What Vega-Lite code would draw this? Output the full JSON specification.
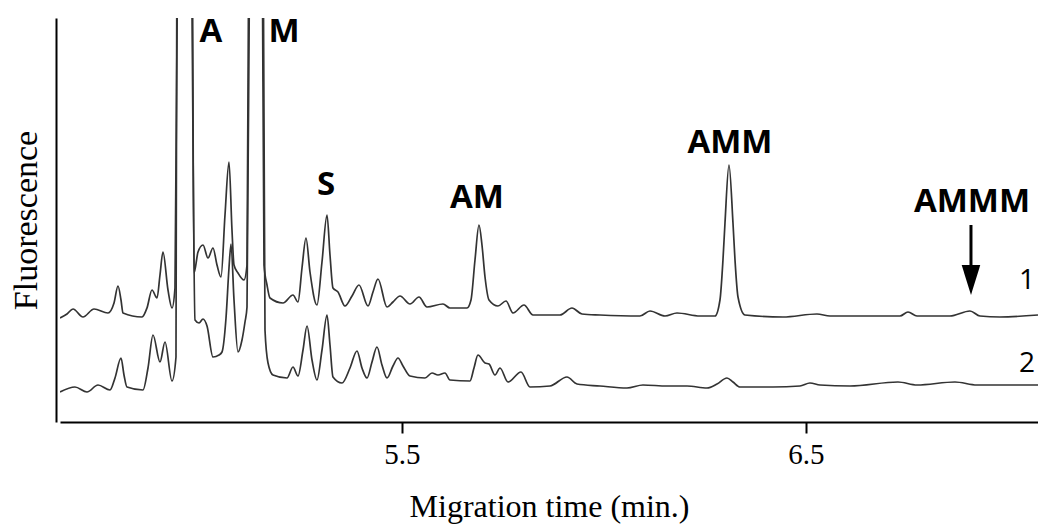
{
  "$schema": "https://vega.github.io/schema/vega-lite/v6.json",
  "width": 978,
  "height": 404,
  "autosize": {"type": "none"},
  "padding": {"left": 60, "top": 18, "right": 0, "bottom": 103},
  "background": "white",
  "config": {"view": {"stroke": null}},
  "datasets": {
    "traces": [
      {"trace": "1", "time": 4.6535, "signal": 104},
      {"trace": "1", "time": 4.6708, "signal": 108},
      {"trace": "1", "time": 4.6857, "signal": 113},
      {"trace": "1", "time": 4.7104, "signal": 105},
      {"trace": "1", "time": 4.7377, "signal": 113},
      {"trace": "1", "time": 4.7723, "signal": 109},
      {"trace": "1", "time": 4.7872, "signal": 119},
      {"trace": "1", "time": 4.7971, "signal": 136},
      {"trace": "1", "time": 4.8045, "signal": 122},
      {"trace": "1", "time": 4.8094, "signal": 109},
      {"trace": "1", "time": 4.8565, "signal": 105},
      {"trace": "1", "time": 4.8688, "signal": 114},
      {"trace": "1", "time": 4.8812, "signal": 132},
      {"trace": "1", "time": 4.8936, "signal": 124},
      {"trace": "1", "time": 4.9010, "signal": 147},
      {"trace": "1", "time": 4.9084, "signal": 170},
      {"trace": "1", "time": 4.9208, "signal": 132},
      {"trace": "1", "time": 4.9307, "signal": 114},
      {"trace": "1", "time": 4.9381, "signal": 134},
      {"trace": "1", "time": 4.9456, "signal": 520},
      {"trace": "1", "time": 4.9629, "signal": 700},
      {"trace": "1", "time": 4.9802, "signal": 520},
      {"trace": "1", "time": 4.9852, "signal": 149},
      {"trace": "1", "time": 4.9951, "signal": 170},
      {"trace": "1", "time": 5.0075, "signal": 177},
      {"trace": "1", "time": 5.0198, "signal": 164},
      {"trace": "1", "time": 5.0322, "signal": 174},
      {"trace": "1", "time": 5.0421, "signal": 157},
      {"trace": "1", "time": 5.0520, "signal": 145},
      {"trace": "1", "time": 5.0619, "signal": 207},
      {"trace": "1", "time": 5.0718, "signal": 260},
      {"trace": "1", "time": 5.0792, "signal": 192},
      {"trace": "1", "time": 5.0842, "signal": 157},
      {"trace": "1", "time": 5.0941, "signal": 149},
      {"trace": "1", "time": 5.1089, "signal": 142},
      {"trace": "1", "time": 5.1164, "signal": 157},
      {"trace": "1", "time": 5.1213, "signal": 520},
      {"trace": "1", "time": 5.1387, "signal": 700},
      {"trace": "1", "time": 5.1535, "signal": 520},
      {"trace": "1", "time": 5.1585, "signal": 157},
      {"trace": "1", "time": 5.1659, "signal": 137},
      {"trace": "1", "time": 5.1733, "signal": 124},
      {"trace": "1", "time": 5.2055, "signal": 119},
      {"trace": "1", "time": 5.2302, "signal": 127},
      {"trace": "1", "time": 5.2426, "signal": 120},
      {"trace": "1", "time": 5.2525, "signal": 154},
      {"trace": "1", "time": 5.2624, "signal": 184},
      {"trace": "1", "time": 5.2723, "signal": 150},
      {"trace": "1", "time": 5.2896, "signal": 117},
      {"trace": "1", "time": 5.3020, "signal": 160},
      {"trace": "1", "time": 5.3144, "signal": 207},
      {"trace": "1", "time": 5.3218, "signal": 167},
      {"trace": "1", "time": 5.3292, "signal": 134},
      {"trace": "1", "time": 5.3416, "signal": 130},
      {"trace": "1", "time": 5.3589, "signal": 116},
      {"trace": "1", "time": 5.3763, "signal": 126},
      {"trace": "1", "time": 5.3936, "signal": 137},
      {"trace": "1", "time": 5.4159, "signal": 116},
      {"trace": "1", "time": 5.4282, "signal": 130},
      {"trace": "1", "time": 5.4406, "signal": 143},
      {"trace": "1", "time": 5.4629, "signal": 115},
      {"trace": "1", "time": 5.4777, "signal": 120},
      {"trace": "1", "time": 5.4951, "signal": 126},
      {"trace": "1", "time": 5.5198, "signal": 118},
      {"trace": "1", "time": 5.5421, "signal": 125},
      {"trace": "1", "time": 5.5619, "signal": 115},
      {"trace": "1", "time": 5.6015, "signal": 118},
      {"trace": "1", "time": 5.6188, "signal": 114},
      {"trace": "1", "time": 5.6609, "signal": 114},
      {"trace": "1", "time": 5.6708, "signal": 122},
      {"trace": "1", "time": 5.6807, "signal": 162},
      {"trace": "1", "time": 5.6906, "signal": 197},
      {"trace": "1", "time": 5.6980, "signal": 177},
      {"trace": "1", "time": 5.7055, "signal": 145},
      {"trace": "1", "time": 5.7154, "signal": 122},
      {"trace": "1", "time": 5.7376, "signal": 116},
      {"trace": "1", "time": 5.7574, "signal": 121},
      {"trace": "1", "time": 5.7748, "signal": 109},
      {"trace": "1", "time": 5.8020, "signal": 117},
      {"trace": "1", "time": 5.8243, "signal": 107},
      {"trace": "1", "time": 5.8911, "signal": 107},
      {"trace": "1", "time": 5.9208, "signal": 114},
      {"trace": "1", "time": 5.9455, "signal": 108},
      {"trace": "1", "time": 5.9901, "signal": 107},
      {"trace": "1", "time": 6.0891, "signal": 106},
      {"trace": "1", "time": 6.1139, "signal": 111},
      {"trace": "1", "time": 6.1510, "signal": 106},
      {"trace": "1", "time": 6.1807, "signal": 109},
      {"trace": "1", "time": 6.2376, "signal": 106},
      {"trace": "1", "time": 6.2748, "signal": 106},
      {"trace": "1", "time": 6.2871, "signal": 122},
      {"trace": "1", "time": 6.2945, "signal": 162},
      {"trace": "1", "time": 6.2995, "signal": 199},
      {"trace": "1", "time": 6.3094, "signal": 257},
      {"trace": "1", "time": 6.3193, "signal": 199},
      {"trace": "1", "time": 6.3243, "signal": 162},
      {"trace": "1", "time": 6.3317, "signal": 125},
      {"trace": "1", "time": 6.3490, "signal": 107},
      {"trace": "1", "time": 6.4431, "signal": 105},
      {"trace": "1", "time": 6.5272, "signal": 108},
      {"trace": "1", "time": 6.5594, "signal": 106},
      {"trace": "1", "time": 6.7327, "signal": 106},
      {"trace": "1", "time": 6.7525, "signal": 110},
      {"trace": "1", "time": 6.7748, "signal": 106},
      {"trace": "1", "time": 6.8564, "signal": 106},
      {"trace": "1", "time": 6.9059, "signal": 111},
      {"trace": "1", "time": 6.9307, "signal": 106},
      {"trace": "1", "time": 6.9802, "signal": 105},
      {"trace": "1", "time": 7.0743, "signal": 107},
      {"trace": "2", "time": 4.6535, "signal": 30},
      {"trace": "2", "time": 4.6906, "signal": 35},
      {"trace": "2", "time": 4.7203, "signal": 30},
      {"trace": "2", "time": 4.7476, "signal": 37},
      {"trace": "2", "time": 4.7773, "signal": 32},
      {"trace": "2", "time": 4.7896, "signal": 44},
      {"trace": "2", "time": 4.8045, "signal": 64},
      {"trace": "2", "time": 4.8119, "signal": 47},
      {"trace": "2", "time": 4.8193, "signal": 35},
      {"trace": "2", "time": 4.8589, "signal": 32},
      {"trace": "2", "time": 4.8713, "signal": 54},
      {"trace": "2", "time": 4.8837, "signal": 87},
      {"trace": "2", "time": 4.9010, "signal": 60},
      {"trace": "2", "time": 4.9134, "signal": 80},
      {"trace": "2", "time": 4.9307, "signal": 41},
      {"trace": "2", "time": 4.9406, "signal": 65},
      {"trace": "2", "time": 4.9431, "signal": 520},
      {"trace": "2", "time": 4.9629, "signal": 700},
      {"trace": "2", "time": 4.9777, "signal": 520},
      {"trace": "2", "time": 4.9877, "signal": 102},
      {"trace": "2", "time": 4.9976, "signal": 99},
      {"trace": "2", "time": 5.0075, "signal": 103},
      {"trace": "2", "time": 5.0174, "signal": 96},
      {"trace": "2", "time": 5.0322, "signal": 65},
      {"trace": "2", "time": 5.0471, "signal": 67},
      {"trace": "2", "time": 5.0545, "signal": 70},
      {"trace": "2", "time": 5.0644, "signal": 104},
      {"trace": "2", "time": 5.0718, "signal": 154},
      {"trace": "2", "time": 5.0768, "signal": 178},
      {"trace": "2", "time": 5.0842, "signal": 122},
      {"trace": "2", "time": 5.0941, "signal": 70},
      {"trace": "2", "time": 5.1040, "signal": 82},
      {"trace": "2", "time": 5.1114, "signal": 100},
      {"trace": "2", "time": 5.1164, "signal": 115},
      {"trace": "2", "time": 5.1238, "signal": 520},
      {"trace": "2", "time": 5.1387, "signal": 700},
      {"trace": "2", "time": 5.1560, "signal": 520},
      {"trace": "2", "time": 5.1609, "signal": 92},
      {"trace": "2", "time": 5.1684, "signal": 59},
      {"trace": "2", "time": 5.1807, "signal": 47},
      {"trace": "2", "time": 5.2154, "signal": 44},
      {"trace": "2", "time": 5.2302, "signal": 55},
      {"trace": "2", "time": 5.2426, "signal": 46},
      {"trace": "2", "time": 5.2550, "signal": 72},
      {"trace": "2", "time": 5.2649, "signal": 96},
      {"trace": "2", "time": 5.2773, "signal": 62},
      {"trace": "2", "time": 5.2896, "signal": 42},
      {"trace": "2", "time": 5.3020, "signal": 72},
      {"trace": "2", "time": 5.3144, "signal": 107},
      {"trace": "2", "time": 5.3218, "signal": 77},
      {"trace": "2", "time": 5.3292, "signal": 45},
      {"trace": "2", "time": 5.3515, "signal": 39},
      {"trace": "2", "time": 5.3713, "signal": 54},
      {"trace": "2", "time": 5.3886, "signal": 71},
      {"trace": "2", "time": 5.4010, "signal": 54},
      {"trace": "2", "time": 5.4134, "signal": 44},
      {"trace": "2", "time": 5.4258, "signal": 60},
      {"trace": "2", "time": 5.4381, "signal": 75},
      {"trace": "2", "time": 5.4505, "signal": 57},
      {"trace": "2", "time": 5.4629, "signal": 44},
      {"trace": "2", "time": 5.4777, "signal": 56},
      {"trace": "2", "time": 5.4901, "signal": 64},
      {"trace": "2", "time": 5.5025, "signal": 56},
      {"trace": "2", "time": 5.5198, "signal": 46},
      {"trace": "2", "time": 5.5569, "signal": 44},
      {"trace": "2", "time": 5.5743, "signal": 49},
      {"trace": "2", "time": 5.5891, "signal": 47},
      {"trace": "2", "time": 5.6064, "signal": 49},
      {"trace": "2", "time": 5.6188, "signal": 42},
      {"trace": "2", "time": 5.6683, "signal": 41},
      {"trace": "2", "time": 5.6782, "signal": 54},
      {"trace": "2", "time": 5.6881, "signal": 67},
      {"trace": "2", "time": 5.7055, "signal": 59},
      {"trace": "2", "time": 5.7154, "signal": 58},
      {"trace": "2", "time": 5.7302, "signal": 47},
      {"trace": "2", "time": 5.7426, "signal": 54},
      {"trace": "2", "time": 5.7624, "signal": 40},
      {"trace": "2", "time": 5.7946, "signal": 50},
      {"trace": "2", "time": 5.8168, "signal": 35},
      {"trace": "2", "time": 5.8664, "signal": 36},
      {"trace": "2", "time": 5.9084, "signal": 45},
      {"trace": "2", "time": 5.9332, "signal": 38},
      {"trace": "2", "time": 5.9901, "signal": 36},
      {"trace": "2", "time": 6.0569, "signal": 34},
      {"trace": "2", "time": 6.0965, "signal": 37},
      {"trace": "2", "time": 6.1560, "signal": 36},
      {"trace": "2", "time": 6.2055, "signal": 36},
      {"trace": "2", "time": 6.2550, "signal": 34},
      {"trace": "2", "time": 6.2797, "signal": 38},
      {"trace": "2", "time": 6.3044, "signal": 44},
      {"trace": "2", "time": 6.3193, "signal": 40},
      {"trace": "2", "time": 6.3366, "signal": 35},
      {"trace": "2", "time": 6.4183, "signal": 35},
      {"trace": "2", "time": 6.4851, "signal": 36},
      {"trace": "2", "time": 6.5099, "signal": 39},
      {"trace": "2", "time": 6.5347, "signal": 37},
      {"trace": "2", "time": 6.6089, "signal": 36},
      {"trace": "2", "time": 6.7277, "signal": 40},
      {"trace": "2", "time": 6.7748, "signal": 37},
      {"trace": "2", "time": 6.8688, "signal": 40},
      {"trace": "2", "time": 6.9232, "signal": 37},
      {"trace": "2", "time": 6.9802, "signal": 37},
      {"trace": "2", "time": 7.0743, "signal": 37}
    ],
    "peaks": [
      {"label": "A", "time": 5.0273, "signal": 380},
      {"label": "M", "time": 5.2079, "signal": 380},
      {"label": "S", "time": 5.3119, "signal": 227},
      {"label": "AM", "time": 5.6857, "signal": 214},
      {"label": "AMM", "time": 6.3119, "signal": 269},
      {"label": "AMMM", "time": 6.9109, "signal": 210}
    ],
    "tracelabels": [
      {"label": "1", "time": 7.047, "signal": 133},
      {"label": "2", "time": 7.047, "signal": 50}
    ],
    "arrowshaft": [
      {"time": 6.9084, "top": 197, "bottom": 150}
    ],
    "arrowhead": [
      {"time": 6.9084, "signal": 142}
    ]
  },
  "layer": [
    {
      "data": {"name": "traces"},
      "mark": {"type": "line", "clip": true, "color": "#333333", "strokeWidth": 1.7, "interpolate": "monotone"},
      "encoding": {
        "x": {
          "field": "time", "type": "quantitative",
          "scale": {"domain": [4.6535, 7.0743], "nice": false, "zero": false},
          "axis": {
            "values": [5.5, 6.5], "format": ".1f", "title": "Migration time (min.)", "grid": false,
            "domainColor": "black", "domainWidth": 2, "tickColor": "black", "tickWidth": 2, "tickSize": 11,
            "labelFont": "Liberation Serif", "labelFontSize": 29, "labelColor": "black", "labelPadding": 7,
            "titleFont": "Liberation Serif", "titleFontSize": 32, "titleFontWeight": "normal", "titleColor": "black", "titlePadding": 22
          }
        },
        "y": {
          "field": "signal", "type": "quantitative",
          "scale": {"domain": [0, 404], "nice": false},
          "axis": {
            "title": "Fluorescence", "labels": false, "ticks": false, "grid": false, "offset": 4,
            "domainColor": "black", "domainWidth": 2,
            "titleFont": "Liberation Serif", "titleFontSize": 34, "titleFontWeight": "normal", "titleColor": "black", "titlePadding": 13
          }
        },
        "detail": {"field": "trace"}
      }
    },
    {
      "data": {"name": "peaks"},
      "mark": {"type": "text", "font": "Open Sans", "fontWeight": "bold", "fontSize": 33, "color": "black", "align": "center", "baseline": "alphabetic"},
      "encoding": {
        "x": {"field": "time", "type": "quantitative"},
        "y": {"field": "signal", "type": "quantitative"},
        "text": {"field": "label"}
      }
    },
    {
      "data": {"name": "tracelabels"},
      "mark": {"type": "text", "font": "Open Sans", "fontSize": 28, "color": "black", "align": "center", "baseline": "alphabetic"},
      "encoding": {
        "x": {"field": "time", "type": "quantitative"},
        "y": {"field": "signal", "type": "quantitative"},
        "text": {"field": "label"}
      }
    },
    {
      "data": {"name": "arrowshaft"},
      "mark": {"type": "rule", "color": "black", "strokeWidth": 3},
      "encoding": {
        "x": {"field": "time", "type": "quantitative"},
        "y": {"field": "top", "type": "quantitative"},
        "y2": {"field": "bottom"}
      }
    },
    {
      "data": {"name": "arrowhead"},
      "mark": {"type": "point", "shape": "M-0.62,-1L0.62,-1L0,1Z", "size": 900, "filled": true, "color": "black", "opacity": 1},
      "encoding": {
        "x": {"field": "time", "type": "quantitative"},
        "y": {"field": "signal", "type": "quantitative"}
      }
    }
  ]
}
